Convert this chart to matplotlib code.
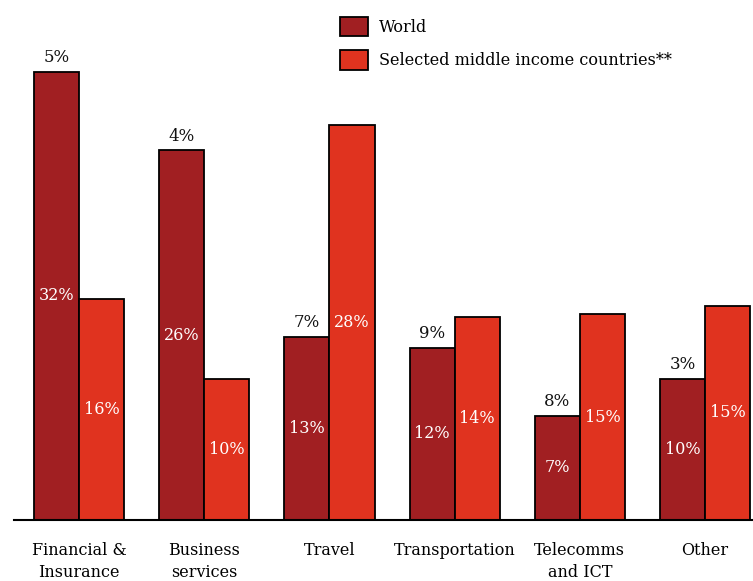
import matplotlib.pyplot as plt
import numpy as np

plt.rcParams['font.family'] = ['DejaVu Serif']

categories = ['Financial &\nInsurance', 'Business\nservices', 'Travel',
              'Transportation', 'Telecomms\nand ICT', 'Other']
# bar heights (share, %)
world = [32.0, 26.4, 13.1, 12.3, 7.45, 10.1]
middle_income = [15.8, 10.1, 28.2, 14.5, 14.7, 15.3]
# numbers printed above the World bars
world_top_labels = ['5%', '4%', '7%', '9%', '8%', '3%']

world_color = '#A11F22'
middle_color = '#E0331F'


def main():
    fig = plt.figure(figsize=(7.53, 5.81), dpi=100)
    ax = fig.add_axes([14 / 753, 61 / 581, 1 - 14 / 753, 520 / 581])

    x = np.arange(len(categories))
    w = 0.36
    b1 = ax.bar(x - w / 2, world, w, color=world_color, edgecolor='black',
                linewidth=1.3, label='World')
    b2 = ax.bar(x + w / 2, middle_income, w, color=middle_color, edgecolor='black',
                linewidth=1.3, label='Selected middle income countries**')

    # values inside the bars
    for bars, vals in [(b1, world), (b2, middle_income)]:
        for bar, v in zip(bars, vals):
            ax.text(bar.get_x() + bar.get_width() / 2, v / 2, f"{v:.0f}%",
                    ha='center', va='center', color='white', fontsize=11.5)

    # labels on top of the World bars
    for bar, lab in zip(b1, world_top_labels):
        ax.annotate(lab, xy=(bar.get_x() + bar.get_width() / 2, bar.get_height()),
                    xytext=(0, 4), textcoords='offset points',
                    ha='center', va='bottom', fontsize=12, color='#111111')

    ax.set_xlim(-0.52, 5.383)
    ax.set_ylim(0, 520 / 14)
    ax.set_xticks(x)
    ax.set_xticklabels(categories, fontsize=11.5, linespacing=1.35)
    ax.tick_params(axis='x', length=0, pad=16)
    ax.set_yticks([])
    for s in ['top', 'right', 'left']:
        ax.spines[s].set_visible(False)
    ax.spines['bottom'].set_linewidth(1.5)

    fig.legend(handles=[b1, b2], loc='upper left', bbox_to_anchor=(340 / 753, 1 - 17 / 581),
               frameon=False, fontsize=11.5, handlelength=1.75, handleheight=1.5,
               handletextpad=0.7, labelspacing=0.85, borderaxespad=0, borderpad=0)

    fig.savefig('out.png', dpi=100)


if __name__ == "__main__":
    main()
